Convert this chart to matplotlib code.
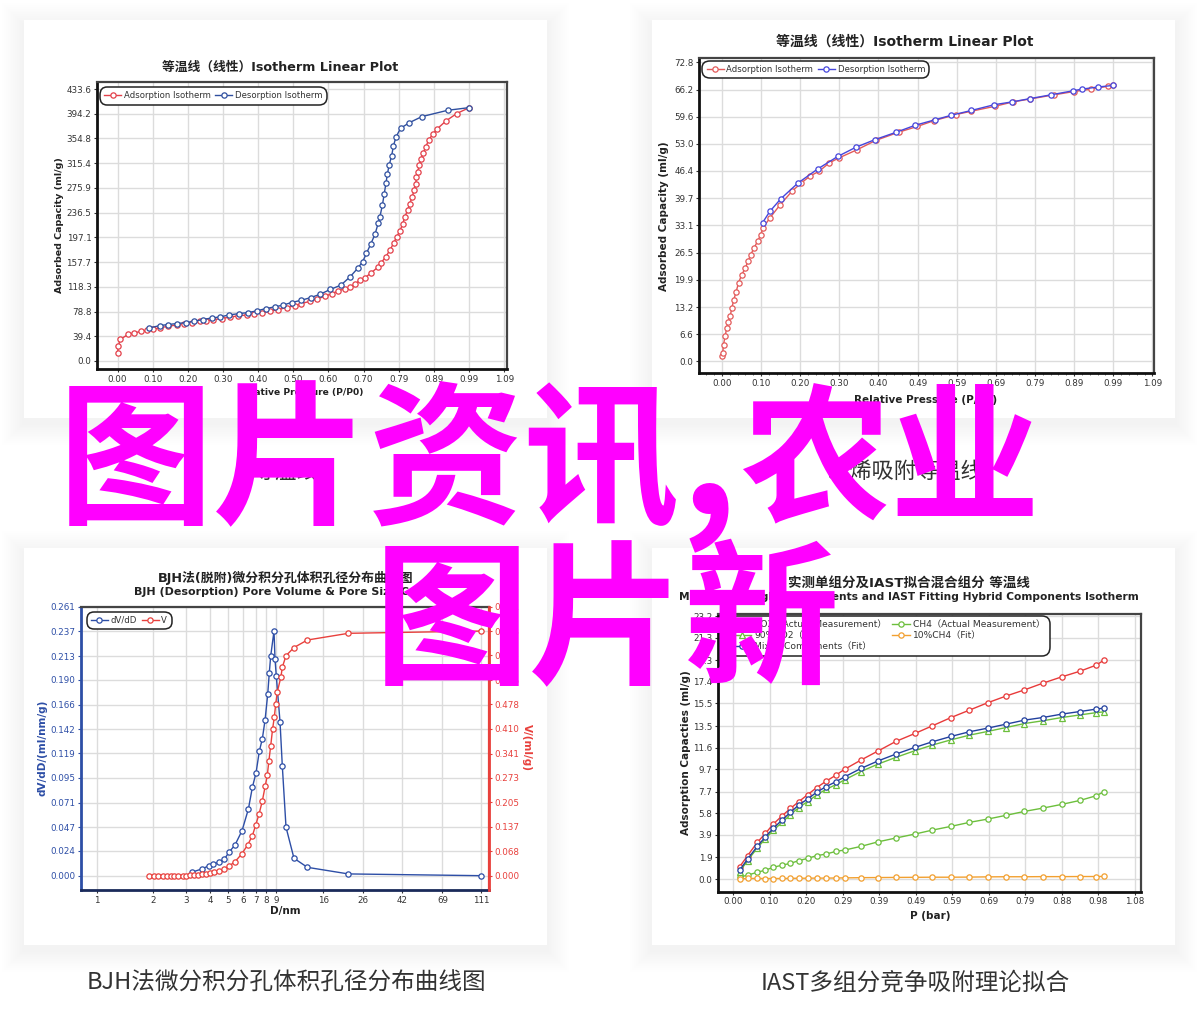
import matplotlib
matplotlib.use('Agg')
import matplotlib.pyplot as plt
from matplotlib.patches import Rectangle
from matplotlib.ticker import NullLocator, AutoMinorLocator, FixedLocator, FixedFormatter

plt.rcParams['font.family'] = ['DejaVu Sans', 'Noto Sans CJK SC']

# ---------------- data: chart 1 (top-left) ----------------
ads1_p = [0.000, 0.002, 0.008, 0.030, 0.046, 0.066, 0.082, 0.100, 0.120, 0.143, 0.166, 0.186, 0.210, 0.232,
          0.250, 0.270, 0.293, 0.316, 0.340, 0.364, 0.384, 0.406, 0.430, 0.452, 0.476, 0.500, 0.518, 0.542,
          0.562, 0.584, 0.603, 0.621, 0.640, 0.654, 0.668, 0.682, 0.696, 0.715, 0.734, 0.743, 0.755, 0.767,
          0.778, 0.786, 0.795, 0.803, 0.809, 0.817, 0.823, 0.830, 0.835, 0.840, 0.842, 0.845, 0.850, 0.855,
          0.861, 0.868, 0.877, 0.888, 0.899, 0.925, 0.955, 0.991]
ads1_v = [12.3, 23.9, 34.6, 42.5, 44.6, 47.3, 48.9, 50.5, 53.2, 55.3, 57.4, 59.5, 61.1, 63.2, 63.8, 66.0,
          67.5, 70.1, 71.8, 73.4, 75.6, 77.1, 79.3, 81.9, 85.1, 88.3, 91.5, 95.2, 99.0, 103.0, 107.3, 111.5,
          115.3, 117.9, 122.2, 128.6, 132.3, 140.8, 149.9, 156.8, 165.9, 176.5, 188.2, 197.8, 207.3, 218.0,
          229.7, 240.3, 250.9, 261.6, 272.2, 282.8, 293.5, 301.4, 312.1, 322.7, 331.8, 341.3, 353.0, 361.5,
          369.4, 382.7, 394.4, 404.0]
des1_p = [0.991, 0.930, 0.857, 0.822, 0.797, 0.784, 0.777, 0.772, 0.765, 0.760, 0.756, 0.751, 0.746, 0.739,
          0.734, 0.725, 0.713, 0.701, 0.690, 0.676, 0.655, 0.629, 0.599, 0.571, 0.545, 0.518, 0.490, 0.465,
          0.443, 0.418, 0.392, 0.368, 0.343, 0.314, 0.289, 0.265, 0.240, 0.215, 0.193, 0.166, 0.141, 0.119, 0.089]
des1_v = [404.0, 399.7, 389.6, 380.0, 370.9, 356.6, 342.8, 326.8, 312.4, 298.0, 283.2, 266.1, 248.6, 230.0,
          219.3, 201.8, 186.3, 171.4, 158.1, 147.5, 134.2, 120.9, 114.0, 106.5, 101.2, 96.9, 93.2, 88.9,
          86.3, 83.6, 79.9, 77.2, 75.6, 73.4, 70.2, 68.6, 66.0, 63.3, 61.2, 59.6, 58.0, 56.4, 52.6]
x1_ticks = [0.0, 0.099, 0.198, 0.297, 0.396, 0.495, 0.594, 0.693, 0.792, 0.891, 0.990, 1.089]
x1_labels = ['0.00', '0.10', '0.20', '0.30', '0.40', '0.50', '0.60', '0.70', '0.79', '0.89', '0.99', '1.09']
y1_ticks = [0.0, 39.4, 78.8, 118.3, 157.7, 197.1, 236.5, 275.9, 315.4, 354.8, 394.2, 433.6]

# ---------------- data: chart 2 (top-right) ----------------
ads2_p = [0.000, 0.002, 0.004, 0.008, 0.012, 0.016, 0.021, 0.025, 0.030, 0.036, 0.042, 0.050, 0.059, 0.066,
          0.073, 0.081, 0.090, 0.098, 0.104, 0.121, 0.147, 0.177, 0.200, 0.224, 0.246, 0.271, 0.295, 0.341,
          0.389, 0.447, 0.494, 0.536, 0.592, 0.630, 0.690, 0.737, 0.780, 0.840, 0.890, 0.934, 0.977, 0.990]
ads2_v = [1.2, 2.0, 4.1, 6.1, 8.1, 9.7, 11.1, 13.0, 15.0, 17.0, 19.1, 21.1, 22.7, 24.4, 26.0, 27.6, 29.2,
          30.8, 32.5, 34.9, 38.1, 41.4, 43.4, 45.2, 46.3, 48.3, 49.5, 51.5, 53.8, 55.8, 57.2, 58.6, 60.1,
          60.9, 62.1, 63.2, 63.9, 64.9, 65.7, 66.3, 67.0, 67.2]
des2_p = [0.990, 0.951, 0.911, 0.889, 0.832, 0.780, 0.735, 0.689, 0.631, 0.579, 0.538, 0.489, 0.441, 0.387,
          0.338, 0.293, 0.243, 0.192, 0.149, 0.121, 0.103]
des2_v = [67.2, 66.8, 66.3, 65.9, 64.9, 64.0, 63.2, 62.5, 61.1, 59.9, 58.8, 57.5, 55.8, 54.0, 52.1, 49.9,
          46.9, 43.4, 39.6, 36.5, 33.8]
x2_ticks = [0.0, 0.099, 0.198, 0.297, 0.396, 0.495, 0.594, 0.693, 0.792, 0.891, 0.990, 1.089]
x2_labels = ['0.00', '0.10', '0.20', '0.30', '0.40', '0.49', '0.59', '0.69', '0.79', '0.89', '0.99', '1.09']
y2_ticks = [0.0, 6.6, 13.2, 19.9, 26.5, 33.1, 39.7, 46.4, 53.0, 59.6, 66.2, 72.8]

# ---------------- data: chart 3 (bottom-left) ----------------
dvdd_d = [3.20, 3.62, 3.96, 4.17, 4.49, 4.77, 5.05, 5.44, 5.93, 6.41, 6.73, 7.04, 7.33, 7.60, 7.86, 8.12,
          8.28, 8.42, 8.77, 8.88, 9.02, 9.44, 9.71, 10.16, 11.2, 13.2, 21.8, 110.3]
dvdd_v = [0.0033, 0.0065, 0.0097, 0.0113, 0.0133, 0.0159, 0.0227, 0.0298, 0.0437, 0.0647, 0.0858, 0.0999,
          0.121, 0.1326, 0.151, 0.176, 0.197, 0.213, 0.2374, 0.210, 0.1937, 0.1494, 0.1064, 0.047, 0.0169,
          0.0081, 0.0017, 0.0]
vol_d = [1.90, 2.02, 2.13, 2.25, 2.36, 2.48, 2.59, 2.72, 2.86, 2.99, 3.14, 3.31, 3.47, 3.65, 3.82, 4.01,
         4.21, 4.48, 4.76, 5.06, 5.44, 5.90, 6.35, 6.73, 7.01, 7.30, 7.60, 7.88, 8.08, 8.24, 8.42, 8.62,
         8.80, 8.95, 9.14, 9.55, 9.71, 10.16, 11.2, 13.2, 21.8, 110.3]
vol_v = [0, 0, 0, 0, 0, 0, 0, 0, 0, 0, 0.001, 0.002, 0.003, 0.004, 0.005, 0.0065, 0.0094, 0.0131, 0.0178,
         0.027, 0.039, 0.0605, 0.0856, 0.1117, 0.1414, 0.172, 0.2083, 0.2511, 0.281, 0.321, 0.362, 0.4095,
         0.442, 0.478, 0.5138, 0.5556, 0.582, 0.6143, 0.637, 0.658, 0.6767, 0.683]
x3_ticks = [1, 2, 3, 4, 5, 6, 7, 8, 9, 16, 26, 42, 69, 111]
y3_left = [0.000, 0.024, 0.047, 0.071, 0.095, 0.119, 0.142, 0.166, 0.190, 0.213, 0.237, 0.261]
y3_right = [0.000, 0.068, 0.137, 0.205, 0.273, 0.341, 0.410, 0.478, 0.546, 0.615, 0.683, 0.751]

# ---------------- data: chart 4 (bottom-right) ----------------
p4 = [0.018, 0.039, 0.065, 0.087, 0.108, 0.132, 0.154, 0.176, 0.200, 0.224, 0.249, 0.276, 0.300, 0.343,
      0.390, 0.437, 0.488, 0.535, 0.585, 0.634, 0.683, 0.732, 0.782, 0.831, 0.882, 0.931, 0.974, 0.995]
co2_meas = [1.09, 2.06, 3.23, 4.03, 4.85, 5.59, 6.23, 6.82, 7.44, 8.06, 8.62, 9.17, 9.70, 10.50, 11.32,
            12.15, 12.85, 13.53, 14.26, 14.91, 15.56, 16.15, 16.70, 17.29, 17.85, 18.35, 18.88, 19.32]
mixed_fit = [0.79, 1.76, 2.88, 3.73, 4.47, 5.23, 5.88, 6.53, 7.06, 7.65, 8.15, 8.59, 9.03, 9.76, 10.44,
             11.03, 11.62, 12.12, 12.59, 13.00, 13.32, 13.67, 14.03, 14.26, 14.56, 14.79, 15.00, 15.09]
co2_fit = [0.66, 1.63, 2.73, 3.57, 4.29, 5.03, 5.67, 6.31, 6.83, 7.41, 7.91, 8.33, 8.77, 9.49, 10.16,
           10.74, 11.33, 11.83, 12.29, 12.70, 13.03, 13.37, 13.73, 13.97, 14.26, 14.49, 14.69, 14.76]
ch4_meas = [0.15, 0.35, 0.59, 0.79, 1.03, 1.23, 1.38, 1.62, 1.82, 2.06, 2.20, 2.44, 2.56, 2.88, 3.29,
            3.62, 3.97, 4.32, 4.65, 5.00, 5.29, 5.62, 5.97, 6.26, 6.59, 6.94, 7.35, 7.70]
ch4_fit = [0.00, 0.05, 0.05, 0.04, 0.04, 0.05, 0.06, 0.07, 0.07, 0.08, 0.08, 0.09, 0.10, 0.12, 0.13,
           0.14, 0.15, 0.16, 0.16, 0.17, 0.19, 0.20, 0.20, 0.21, 0.21, 0.22, 0.22, 0.23]
x4_ticks = [0.0, 0.098, 0.196, 0.294, 0.392, 0.490, 0.588, 0.686, 0.784, 0.882, 0.980, 1.078]
x4_labels = ['0.00', '0.10', '0.20', '0.29', '0.39', '0.49', '0.59', '0.69', '0.79', '0.88', '0.98', '1.08']
y4_ticks = [0.0, 1.9, 3.9, 5.8, 7.7, 9.7, 11.6, 13.5, 15.5, 17.4, 19.3, 21.3, 23.2]

# ---------------- text ----------------
overlay_a = "图片资讯"
overlay_comma = ","
overlay_b = "农业"
overlay_line2 = "图片新"
cap_tl = "等温线"
cap_tr = "乙烯吸附等温线"
cap_bl = "BJH法微分积分孔体积孔径分布曲线图"
cap_br = "IAST多组分竞争吸附理论拟合"

W, H = 1200, 1032
fig = plt.figure(figsize=(W / 100, H / 100), dpi=100)
fig.patch.set_facecolor('white')


def fx(x):
    return x / W


def fy(y):
    return 1 - y / H


def frect(l, t, r, b):
    return [l / W, 1 - b / H, (r - l) / W, (b - t) / H]


def card(l, t, r, b):
    for k in range(12, 0, -1):
        p = k * 1.8
        fig.add_artist(Rectangle((fx(l - p), fy(b + p + 5)), (r - l + 2 * p) / W, (b - t + 2 * p) / H,
                                 transform=fig.transFigure, facecolor='black', alpha=0.0055,
                                 edgecolor='none', zorder=-10))
    fig.add_artist(Rectangle((fx(l), fy(b)), (r - l) / W, (b - t) / H, transform=fig.transFigure,
                             facecolor='white', edgecolor='none', zorder=-5))


def style(ax, cl='#111111', cb='#111111', cr='#444444', ct='#444444'):
    ax.set_facecolor('white')
    for s, c, lw in [('left', cl, 2.0), ('bottom', cb, 2.0), ('right', cr, 1.6), ('top', ct, 1.6)]:
        ax.spines[s].set_color(c)
        ax.spines[s].set_linewidth(lw)
    ax.grid(True, color='#dcdcdc', lw=1.0)
    ax.set_axisbelow(True)
    ax.tick_params(direction='out', length=2.5, width=0.8, labelsize=6.3, labelcolor='#333333',
                   color='#333333', pad=1.5)


def legend(ax, handles, labels, anchor, ncol=2, fs=6.1):
    leg = ax.legend(handles, labels, loc='upper left', bbox_to_anchor=anchor, ncol=ncol, fontsize=fs,
                    frameon=True, fancybox=True, framealpha=1, edgecolor='#222222', handlelength=2.0,
                    handletextpad=0.3, columnspacing=0.6, borderpad=0.25, labelspacing=0.15,
                    borderaxespad=0.0)
    leg.get_frame().set_linewidth(1.1)
    leg.get_frame().set_boxstyle('round,pad=0.25,rounding_size=0.9')
    for t in leg.get_texts():
        t.set_color('#333333')
    return leg


MK = dict(marker='o', ms=3.8, mfc='white', mew=0.9, lw=1.0)

card(24, 20, 547, 418)
card(652, 20, 1175, 418)
card(24, 548, 547, 945)
card(652, 548, 1175, 945)

# ================= chart 1 =================
ax1 = fig.add_axes(frect(97, 82, 507, 369))
style(ax1)
c_red1, c_blue1 = '#e3404a', '#2f4f9f'
h1, = ax1.plot(ads1_p, ads1_v, color=c_red1, mec=c_red1, **MK)
h2, = ax1.plot(des1_p, des1_v, color=c_blue1, mec=c_blue1, **MK)
ax1.set_xlim(-0.058, 1.097)
ax1.set_ylim(-12.8, 444.8)
ax1.set_xticks(x1_ticks)
ax1.set_xticklabels(x1_labels)
ax1.set_yticks(y1_ticks)
ax1.set_yticklabels(['%.1f' % v for v in y1_ticks])
legend(ax1, [h1, h2], ['Adsorption Isotherm', 'Desorption Isotherm'], (0.012, 0.975))
fig.text(fx(280), fy(67), '等温线（线性）Isotherm Linear Plot', ha='center', va='center', fontsize=9.2,
         fontweight='bold', color='#222222')
fig.text(fx(301), fy(393), 'Relative Pressure (P/P0)', ha='center', va='center', fontsize=6.6,
         fontweight='bold', color='#222222')
fig.text(fx(60), fy(225), 'Adsorbed Capacity (ml/g)', ha='center', va='center', fontsize=6.8,
         fontweight='bold', color='#222222', rotation=90)

# ================= chart 2 =================
ax2 = fig.add_axes(frect(699, 58, 1154, 373))
style(ax2)
c_red2, c_blue2 = '#e35a5a', '#4646dc'
g1, = ax2.plot(ads2_p, ads2_v, color=c_red2, mec=c_red2, **MK)
g2, = ax2.plot(des2_p, des2_v, color=c_blue2, mec=c_blue2, **MK)
ax2.set_xlim(-0.058, 1.093)
ax2.set_ylim(-2.82, 73.87)
ax2.set_xticks(x2_ticks)
ax2.set_xticklabels(x2_labels)
ax2.set_yticks(y2_ticks)
ax2.set_yticklabels(['%.1f' % v for v in y2_ticks])
ax2.xaxis.set_minor_locator(AutoMinorLocator(5))
ax2.tick_params(which='minor', length=1.5, width=0.6, color='#555555')
legend(ax2, [g1, g2], ['Adsorption Isotherm', 'Desorption Isotherm'], (0.012, 0.985))
fig.text(fx(905), fy(42), '等温线（线性）Isotherm Linear Plot', ha='center', va='center', fontsize=10,
         fontweight='bold', color='#222222')
fig.text(fx(926), fy(400), 'Relative Pressure (P/P0)', ha='center', va='center', fontsize=7.5,
         fontweight='bold', color='#222222')
fig.text(fx(664), fy(216), 'Adsorbed Capacity (ml/g)', ha='center', va='center', fontsize=7.5,
         fontweight='bold', color='#222222', rotation=90)

# ================= chart 3 =================
c_blue3, c_red3 = '#2d4ea6', '#e8403c'
ax3 = fig.add_axes(frect(80.7, 606.7, 489.3, 890))
style(ax3, cl=c_blue3, cb='#1a2a5a', cr=c_red3)
ax3.set_xscale('log')
ax3b = ax3.twinx()
k1, = ax3.plot(dvdd_d, dvdd_v, color=c_blue3, mec=c_blue3, zorder=3, **MK)
k2, = ax3b.plot(vol_d, vol_v, color=c_red3, mec=c_red3, **MK)
ax3.set_xlim(0.822, 122.5)
ax3.set_ylim(-0.0139, 0.261)
ax3b.set_ylim(-0.0399, 0.751)
ax3.xaxis.set_major_locator(FixedLocator(x3_ticks))
ax3.xaxis.set_major_formatter(FixedFormatter([str(v) for v in x3_ticks]))
ax3.xaxis.set_minor_locator(NullLocator())
ax3.set_yticks(y3_left)
ax3.set_yticklabels(['%.3f' % v for v in y3_left])
ax3.tick_params(axis='y', labelcolor=c_blue3, color=c_blue3)
ax3b.set_yticks(y3_right)
ax3b.set_yticklabels(['%.3f' % v for v in y3_right])
for s in ['left', 'bottom', 'top']:
    ax3b.spines[s].set_visible(False)
ax3b.spines['right'].set_color(c_red3)
ax3b.spines['right'].set_linewidth(2.0)
ax3b.tick_params(axis='y', direction='out', length=2.5, width=0.8, labelsize=6.3, labelcolor=c_red3,
                 color=c_red3, pad=1.5)
ax3b.grid(False)
legend(ax3b, [k1, k2], ['dV/dD', 'V'], (0.02, 0.975))
fig.text(fx(286), fy(578), 'BJH法(脱附)微分积分孔体积孔径分布曲线图', ha='center', va='center', fontsize=9.3,
         fontweight='bold', color='#222222')
fig.text(fx(286), fy(592), 'BJH (Desorption) Pore Volume & Pore Size Curve', ha='center', va='center',
         fontsize=8.0, fontweight='bold', color='#222222')
fig.text(fx(285), fy(911), 'D/nm', ha='center', va='center', fontsize=7.5, fontweight='bold',
         color='#222222')
fig.text(fx(43), fy(748), 'dV/dD/(ml/nm/g)', ha='center', va='center', fontsize=7.5, fontweight='bold',
         color=c_blue3, rotation=90)
fig.text(fx(527), fy(748), 'V/(ml/g)', ha='center', va='center', fontsize=7.5, fontweight='bold',
         color=c_red3, rotation=270)

# ================= chart 4 =================
ax4 = fig.add_axes(frect(718, 614, 1141, 891.7))
style(ax4)
c_red4, c_green4, c_blue4, c_orange4 = '#e83a3a', '#6cbf3c', '#22409e', '#f2a030'
m1, = ax4.plot(p4, co2_meas, color=c_red4, mec=c_red4, **MK)
m2, = ax4.plot(p4, ch4_meas, color=c_green4, mec=c_green4, **MK)
m3, = ax4.plot(p4, co2_fit, color=c_green4, mec=c_green4, marker='^', ms=3.8, mfc='white', mew=0.9, lw=1.0)
m4, = ax4.plot(p4, ch4_fit, color=c_orange4, mec=c_orange4, **MK)
m5, = ax4.plot(p4, mixed_fit, color=c_blue4, mec=c_blue4, **MK)
ax4.set_xlim(-0.0403, 1.0946)
ax4.set_ylim(-1.12, 23.4)
ax4.set_xticks(x4_ticks)
ax4.set_xticklabels(x4_labels)
ax4.set_yticks(y4_ticks)
ax4.set_yticklabels(['%.1f' % v for v in y4_ticks])
legend(ax4, [m1, m3, m5, m2, m4],
       ['CO2（Actual Measurement）', '90%CO2（Fit）', 'Mixed Components（Fit）',
        'CH4（Actual Measurement）', '10%CH4（Fit）'], (0.03, 0.985), fs=6.6)
fig.text(fx(909), fy(583), '实测单组分及IAST拟合混合组分 等温线', ha='center', va='center', fontsize=9.7,
         fontweight='bold', color='#222222')
fig.text(fx(909), fy(597.5), 'Measured Single Components and IAST Fitting Hybrid Components Isotherm',
         ha='center', va='center', fontsize=7.7, fontweight='bold', color='#222222')
fig.text(fx(930), fy(916), 'P (bar)', ha='center', va='center', fontsize=7.5, fontweight='bold',
         color='#222222')
fig.text(fx(686), fy(753), 'Adsorption Capacties (ml/g)', ha='center', va='center', fontsize=7.5,
         fontweight='bold', color='#222222', rotation=90)

# ================= captions =================
CAPF = ['Noto Sans CJK SC', 'DejaVu Sans']
fig.text(fx(286), fy(472), cap_tl, ha='center', va='center', fontsize=16, family=CAPF, color='#333333')
fig.text(fx(905), fy(472), cap_tr, ha='center', va='center', fontsize=16, family=CAPF, color='#333333')
fig.text(fx(286), fy(983), cap_bl, ha='center', va='center', fontsize=17, family=CAPF, color='#333333')
fig.text(fx(915), fy(983), cap_br, ha='center', va='center', fontsize=17, family=CAPF, color='#333333')

# ================= magenta overlay =================
OV = dict(va='center', ha='left', family=CAPF, fontweight='bold', color='#ff00ff', zorder=100)
fig.text(fx(58), fy(467), overlay_a, fontsize=112, **OV)
fig.text(fx(680), fy(462), overlay_comma, fontsize=128, **OV)
fig.text(fx(740), fy(467), overlay_b, fontsize=108, **OV)
fig.text(fx(374), fy(627), overlay_line2, fontsize=112, **OV)

fig.savefig('out.png', dpi=100, facecolor='white')
